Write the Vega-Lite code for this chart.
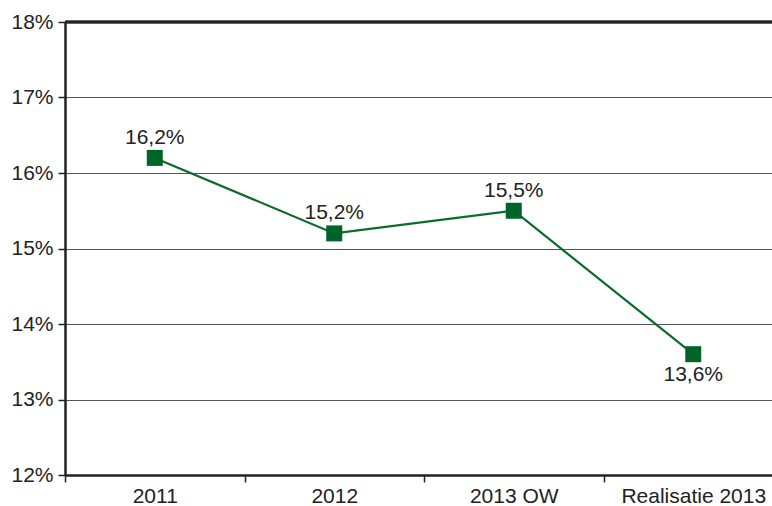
{
  "$schema": "https://vega.github.io/schema/vega-lite/v6.json",
  "width": 718,
  "height": 453,
  "autosize": "none",
  "padding": {"left": 65, "top": 22, "right": 0, "bottom": 31},
  "background": "white",
  "config": {
    "view": {"stroke": null},
    "font": "Liberation Sans"
  },
  "data": {
    "values": [
      {"jaar": "2011", "waarde": 16.2, "label": "16,2%", "pos": "boven"},
      {"jaar": "2012", "waarde": 15.2, "label": "15,2%", "pos": "boven"},
      {"jaar": "2013 OW", "waarde": 15.5, "label": "15,5%", "pos": "boven"},
      {"jaar": "Realisatie 2013", "waarde": 13.6, "label": "13,6%", "pos": "onder"}
    ]
  },
  "encoding": {
    "x": {
      "field": "jaar", "type": "nominal", "sort": null,
      "scale": {"paddingInner": 0, "paddingOuter": 0},
      "axis": {
        "title": null, "labelAngle": 0, "labelFontSize": 21, "labelColor": "#222",
        "labelPadding": 3, "domainColor": "#222", "domainWidth": 2.5,
        "tickBand": "extent", "tickColor": "#222", "tickSize": 7, "tickWidth": 1.5,
        "grid": false, "labelOverlap": false
      }
    },
    "y": {
      "field": "waarde", "type": "quantitative",
      "scale": {"domain": [12, 18], "nice": false, "zero": false},
      "axis": {
        "title": null, "values": [12, 13, 14, 15, 16, 17, 18],
        "labelExpr": "datum.value + '%'", "labelFontSize": 21, "labelColor": "#222",
        "labelPadding": 5, "domainColor": "#222", "domainWidth": 2.5,
        "tickColor": "#222", "tickSize": 7, "tickWidth": 1.5, "labelOverlap": false,
        "grid": true, "gridColor": "#555", "gridWidth": 1.2
      }
    }
  },
  "layer": [
    {
      "mark": {"type": "rule", "color": "#222", "strokeWidth": 2.5},
      "encoding": {"y": {"datum": 18}, "x": null}
    },
    {
      "mark": {"type": "line", "color": "#0a6b2c", "strokeWidth": 2.2}
    },
    {
      "mark": {"type": "square", "color": "#006428", "opacity": 1, "filled": true, "size": 256}
    },
    {
      "transform": [{"filter": "datum.pos == 'boven'"}],
      "mark": {"type": "text", "fontSize": 21, "color": "#222", "baseline": "bottom", "dy": -10},
      "encoding": {"text": {"field": "label"}}
    },
    {
      "transform": [{"filter": "datum.pos == 'onder'"}],
      "mark": {"type": "text", "fontSize": 21, "color": "#222", "baseline": "top", "dy": 10},
      "encoding": {"text": {"field": "label"}}
    }
  ]
}
